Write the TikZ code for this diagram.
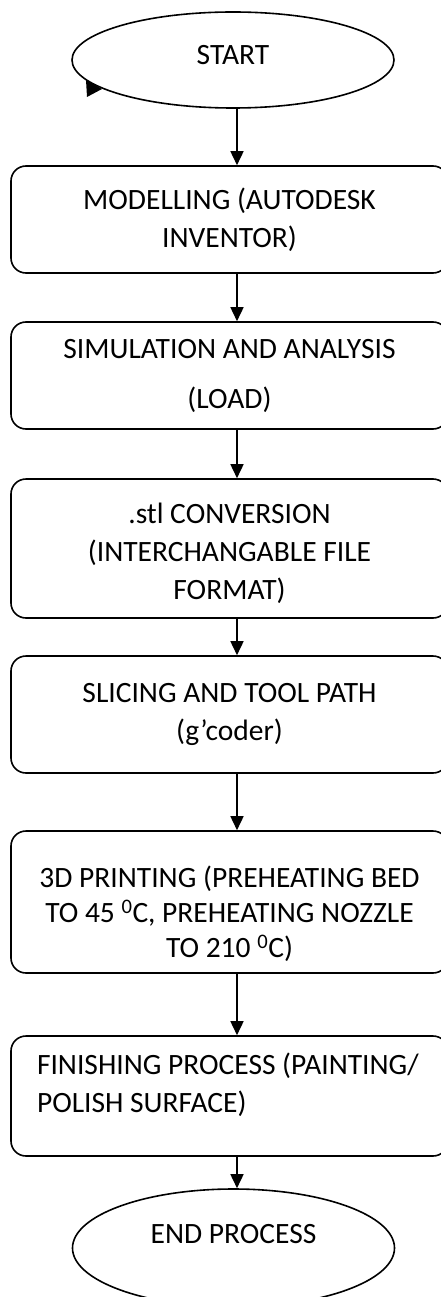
\documentclass[tikz,border=0pt]{standalone}
\usepackage{fontspec}
\setmainfont{Carlito}
\usetikzlibrary{shapes.geometric,arrows.meta}

\tikzset{every picture/.style={line width=1.6pt}}
\tikzset{
  terminal/.style={draw, ellipse, inner sep=0pt, minimum width=322pt, text height=19pt},
  procbox/.style={draw, rounded corners=15pt, minimum width=437pt, inner sep=0pt, align=center},
  flow/.style={-{Triangle[width=13pt,length=14pt]}},
}

\begin{document}
\begin{tikzpicture}[x=1pt,y=1pt,yscale=-1,xscale=1,font={\fontsize{29.5}{38}\selectfont}]
\useasboundingbox (0,0) rectangle (440,1297);
\coordinate (axis) at (237,0);

%Shape: Ellipse [start]
\node [terminal, minimum height=96pt, text depth=10pt] (start) at (233,60) {START};
%Shape: small tip on the ellipse
\fill (86,80) -- (102,89) -- (87,97) -- cycle;

%Shape: Rounded Rect [model]
\node [procbox, minimum height=107pt] (model) at (229.5,219.5) {MODELLING (AUTODESK\\INVENTOR)};
%Shape: Rounded Rect [simul]
\node [procbox, minimum height=107pt] (simul) at (229.5,375.5) {SIMULATION AND ANALYSIS\\[12pt](LOAD)};
%Shape: Rounded Rect [stlconv]
\node [procbox, minimum height=139pt, text height=110pt, text depth=8pt] (stlconv) at (229.5,548.5) {.stl CONVERSION\\(INTERCHANGABLE FILE\\FORMAT)};
%Shape: Rounded Rect [slicing]
\node [procbox, minimum height=117pt] (slicing) at (229.5,714.5) {SLICING AND TOOL PATH\\(g’coder)};
%Shape: Rounded Rect [printing]
\node [procbox, minimum height=142pt, text height=118pt, text depth=7pt, font={\fontsize{29.5}{35}\selectfont}] (printing) at (229.5,902) {3D PRINTING (PREHEATING BED\\TO 45 \textsuperscript{0}C, PREHEATING NOZZLE\\TO 210 \textsuperscript{0}C)};
%Shape: Rounded Rect [finishing]
\node [procbox, minimum height=120pt, align=flush left, text width=385pt, inner xsep=26pt, text height=7pt, text depth=50pt] (finishing) at (229.5,1096) {\mbox{FINISHING PROCESS (PAINTING/}\\POLISH SURFACE)};

%Shape: Ellipse [finish]
\node [terminal, minimum height=118pt, text depth=28pt] (finish) at (233.5,1248) {END PROCESS};

% Connectors
\draw [flow] (start.south -| axis) -- (model.north -| axis);
\draw [flow] (model.south -| axis) -- (simul.north -| axis);
\draw [flow] (simul.south -| axis) -- (stlconv.north -| axis);
\draw [flow] (stlconv.south -| axis) -- (slicing.north -| axis);
\draw [flow] (slicing.south -| axis) -- (printing.north -| axis);
\draw [flow] (printing.south -| axis) -- (finishing.north -| axis);
\draw [flow] (finishing.south -| axis) -- (finish.north -| axis);

\end{tikzpicture}
\end{document}
